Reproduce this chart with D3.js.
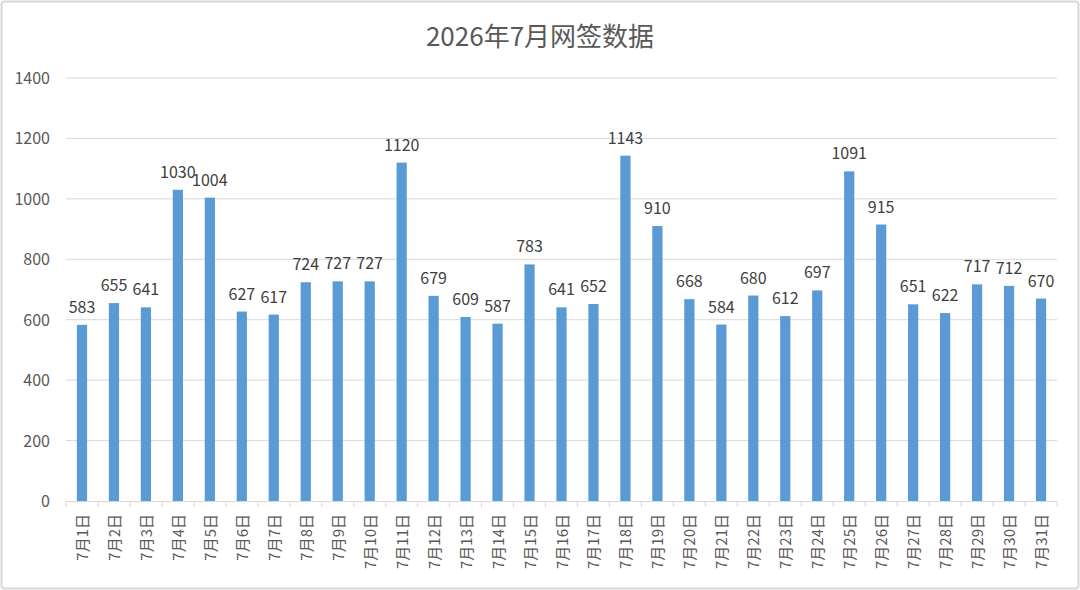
<!DOCTYPE html>
<html>
<head>
<meta charset="utf-8">
<script src="https://cdn.jsdelivr.net/npm/d3@7"></script>
<style>
  html, body { margin: 0; padding: 0; background: #fff; }
  #chart { width: 1080px; height: 590px; }
  text { font-family: "Noto Sans CJK SC", "Noto Sans", sans-serif; }
</style>
</head>
<body>
<div id="chart"></div>
<script>
// 7月每日网签数据
const days = d3.range(1, 32).map((d) => `7月${d}日`);
const values = [583, 655, 641, 1030, 1004, 627, 617, 724, 727, 727, 1120, 679, 609, 587, 783,
    641, 652, 1143, 910, 668, 584, 680, 612, 697, 1091, 915, 651, 622, 717, 712, 670];
const yTicks = [0, 200, 400, 600, 800, 1000, 1200, 1400];
const title = "2026年7月网签数据";

function drawChart() {
    const W = 1080, H = 590;
    const margin = { top: 78, right: 23, bottom: 89, left: 66 };
    const width = W - margin.left - margin.right;
    const height = H - margin.top - margin.bottom;

    const svg = d3.select("#chart").append("svg")
        .attr("width", W)
        .attr("height", H);

    // 外框
    svg.append("rect")
        .attr("x", 1.5).attr("y", 1.5)
        .attr("width", W - 3).attr("height", H - 3)
        .attr("rx", 3)
        .attr("fill", "#fff")
        .attr("stroke", "#d9d9d9")
        .attr("stroke-width", 2);

    svg.append("text")
        .attr("x", W / 2)
        .attr("y", 46)
        .attr("text-anchor", "middle")
        .attr("fill", "#595959")
        .style("font-size", "26px")
        .text(title);

    const g = svg.append("g")
        .attr("transform", `translate(${margin.left},${margin.top})`);

    const x = d3.scaleBand().domain(days).range([0, width]).paddingInner(0.68).paddingOuter(0.34);
    const y = d3.scaleLinear().domain([0, 1400]).range([height, 0]);

    // 网格线
    g.selectAll(".grid")
        .data(yTicks.filter((t) => t > 0))
        .join("line")
        .attr("x1", 0).attr("x2", width)
        .attr("y1", (d) => y(d)).attr("y2", (d) => y(d))
        .attr("stroke", "#d9d9d9")
        .attr("stroke-width", 1);

    // y 轴标签
    g.selectAll(".ytick")
        .data(yTicks)
        .join("text")
        .attr("x", -16)
        .attr("y", (d) => y(d) + 6)
        .attr("text-anchor", "end")
        .attr("fill", "#595959")
        .style("font-size", "16px")
        .text((d) => d);

    // 柱子
    g.selectAll(".bar")
        .data(values)
        .join("rect")
        .attr("x", (d, i) => x(days[i]))
        .attr("y", (d) => y(d))
        .attr("width", x.bandwidth())
        .attr("height", (d) => height - y(d))
        .attr("fill", "#5b9bd5");

    // 数值标签
    g.selectAll(".val")
        .data(values)
        .join("text")
        .attr("x", (d, i) => x(days[i]) + x.bandwidth() / 2)
        .attr("y", (d) => y(d) - 12)
        .attr("text-anchor", "middle")
        .attr("fill", "#404040")
        .style("font-size", "16px")
        .text((d) => d);

    // x 轴
    const step = width / days.length;
    g.append("line")
        .attr("x1", 0).attr("x2", width)
        .attr("y1", height + 0.5).attr("y2", height + 0.5)
        .attr("stroke", "#d9d9d9");
    g.selectAll(".xtick")
        .data(d3.range(days.length + 1))
        .join("line")
        .attr("x1", (i) => i * step).attr("x2", (i) => i * step)
        .attr("y1", height).attr("y2", height + 6)
        .attr("stroke", "#d9d9d9");

    g.selectAll(".xlabel")
        .data(days)
        .join("text")
        .attr("transform", (d) => `translate(${x(d) + x.bandwidth() / 2 + 6},${height + 13}) rotate(-90)`)
        .attr("text-anchor", "end")
        .attr("fill", "#595959")
        .style("font-size", "15px")
        .text((d) => d);
}

drawChart();
</script>
</body>
</html>
